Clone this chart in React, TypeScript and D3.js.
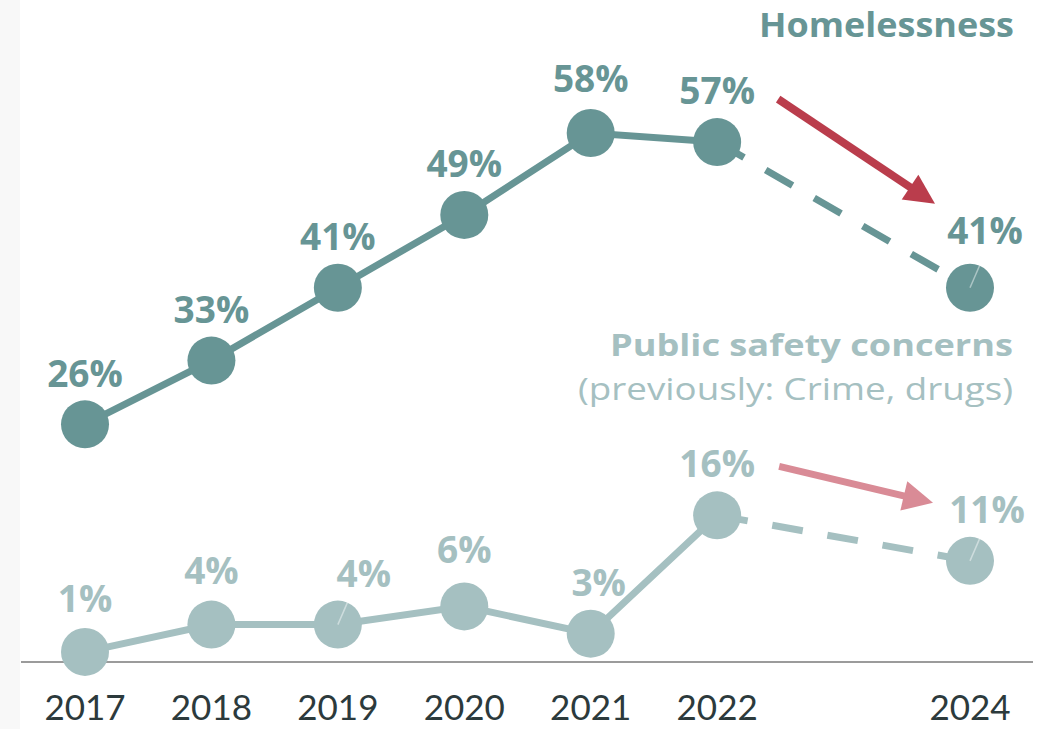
import React from 'react';
import * as d3 from 'd3';

const years = [2017, 2018, 2019, 2020, 2021, 2022, 2024];
const homelessness = [26, 33, 41, 49, 58, 57, 41];
const publicSafety = [1, 4, 4, 6, 3, 16, 11];
const yearLabels = ['2017', '2018', '2019', '2020', '2021', '2022', '2024'];

const DARK = '#679595';
const LIGHT = '#a5c0c1';
const RED = '#ba3d4c';
const PINK = '#d98b96';
const FONT = '"Open Sans", Lato, sans-serif';
const YEAR_FONT = 'Lato, "Open Sans", sans-serif';

const width = 1043;
const height = 729;

// label offsets (dx, dy from point centre to text baseline)
const darkOffsets = [[0, -37], [0, -38], [0, -38], [0, -38], [0, -41], [0, -38], [15, -44]];
const lightOffsets = [[0, -40], [0, -41], [26, -38], [0, -43], [8, -38], [0, -38], [17, -38]];

const Series = ({ values, color, offsets, leaders }) => {
  const x = d3.scaleLinear().domain([2017, 2024]).range([85, 970]);
  const y = d3.scaleLinear().domain([0, 58]).range([661, 133]);
  const pts = values.map((v, i) => [x(years[i]), y(v)]);
  const line = d3.line();
  const solid = pts.slice(0, 6);
  const dashed = pts.slice(5);
  return (
    <g>
      <path d={line(solid)} fill="none" stroke={color} strokeWidth={7} />
      <path d={line(dashed)} fill="none" stroke={color} strokeWidth={7} strokeDasharray="31 25" />
      {pts.map((p, i) => (
        <circle key={i} cx={p[0]} cy={p[1]} r={24} fill={color} />
      ))}
      {leaders.map((i) => (
        <line key={'l' + i} x1={pts[i][0]} y1={pts[i][1]} x2={pts[i][0] + 13} y2={pts[i][1] - 30}
          stroke="#ffffff" strokeOpacity={0.45} strokeWidth={1.5} />
      ))}
      {pts.map((p, i) => (
        <text key={'t' + i} x={p[0] + offsets[i][0]} y={p[1] + offsets[i][1]} textAnchor="middle"
          fontFamily={FONT} fontWeight={700} fontSize={37} fill={color}>{values[i]}%</text>
      ))}
    </g>
  );
};

const Arrow = ({ x1, y1, x2, y2, color, w }) => {
  const ang = Math.atan2(y2 - y1, x2 - x1);
  const hl = 30, hw = 15;
  const bx = x2 - hl * Math.cos(ang);
  const by = y2 - hl * Math.sin(ang);
  const px = -Math.sin(ang) * hw, py = Math.cos(ang) * hw;
  return (
    <g>
      <line x1={x1} y1={y1} x2={bx + Math.cos(ang) * 2} y2={by + Math.sin(ang) * 2} stroke={color} strokeWidth={w} />
      <polygon points={`${x2},${y2} ${bx + px},${by + py} ${bx - px},${by - py}`} fill={color} />
    </g>
  );
};

export default function App() {
  const x = d3.scaleLinear().domain([2017, 2024]).range([85, 970]);
  const y = d3.scaleLinear().domain([0, 58]).range([661, 133]);
  return (
    <svg width={width} height={height} style={{ position: 'absolute', left: 0, top: 0, background: '#fff' }}>
      <rect x={0} y={0} width={20} height={height} fill="#f8f8f8" />
      <line x1={21} x2={1033} y1={662} y2={662} stroke="#9b9b9b" strokeWidth={2} />
      {years.map((yr, i) => (
        <text key={yr} x={x(yr)} y={720} textAnchor="middle" fontFamily={YEAR_FONT} fontSize={35} fill="#2c3a3c">
          {yearLabels[i]}
        </text>
      ))}
      <Arrow x1={x(2022) + 61} y1={y(57) - 43} x2={x(2024) - 35} y2={y(41) - 84} color={RED} w={8} />
      <Arrow x1={x(2022) + 62} y1={y(16) - 49} x2={x(2024) - 37} y2={y(11) - 58} color={PINK} w={7} />
      <Series values={publicSafety} color={LIGHT} offsets={lightOffsets} leaders={[2, 6]} />
      <Series values={homelessness} color={DARK} offsets={darkOffsets} leaders={[6]} />
      <text x={1014} y={37} textAnchor="end" fontFamily={FONT} fontWeight={700} fontSize={34} fill={DARK}
        textLength={255} lengthAdjust="spacingAndGlyphs">Homelessness</text>
      <text x={1013} y={356} textAnchor="end" fontFamily={FONT} fontWeight={700} fontSize={31} fill={LIGHT}
        textLength={403} lengthAdjust="spacingAndGlyphs">Public safety concerns</text>
      <text x={1013} y={400} textAnchor="end" fontFamily={FONT} fontSize={31} fill={LIGHT}
        textLength={435} lengthAdjust="spacingAndGlyphs">(previously: Crime, drugs)</text>
    </svg>
  );
}
